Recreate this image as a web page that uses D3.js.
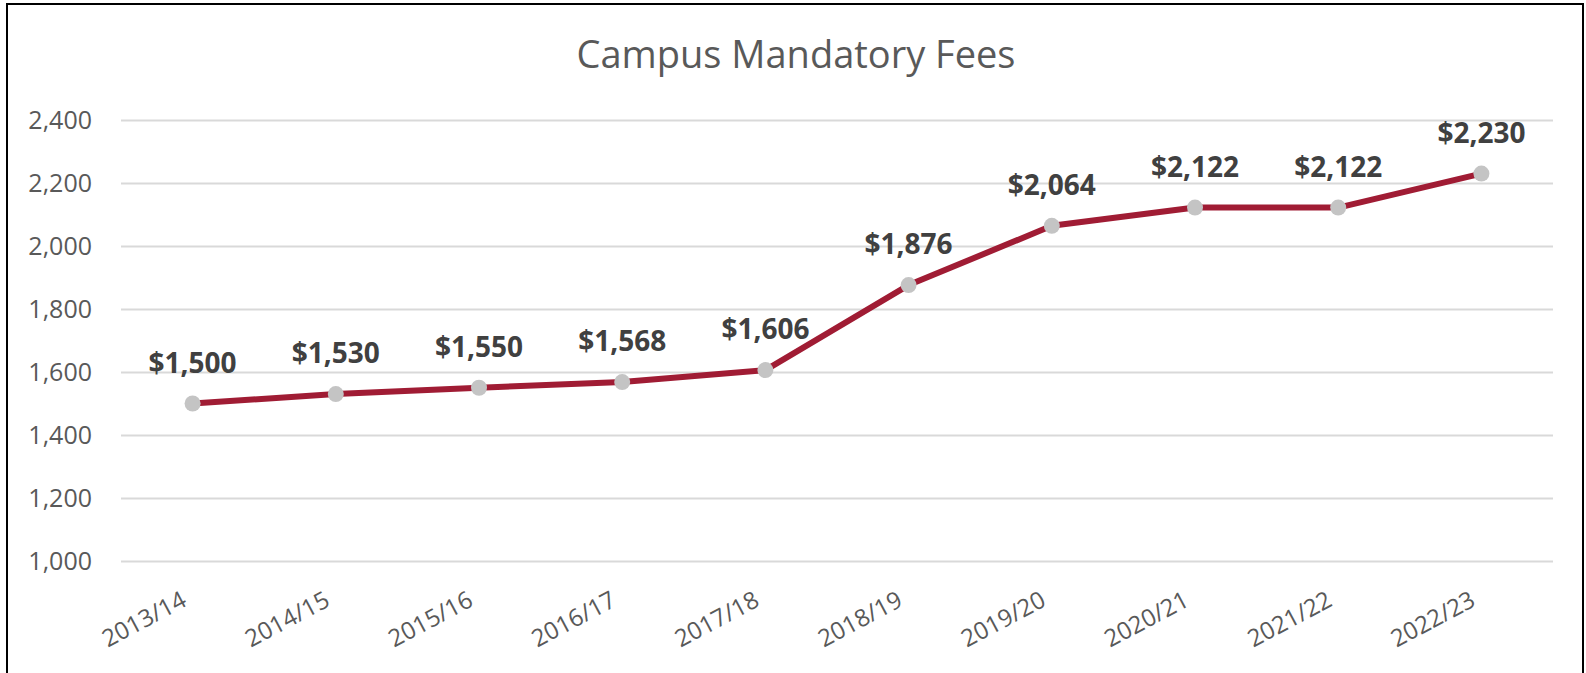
<!DOCTYPE html>
<html>
<head>
<meta charset="utf-8">
<script src="https://cdn.jsdelivr.net/npm/d3@7"></script>
<style>
  body { margin: 0; background: #fff; }
  text { font-family: "Open Sans", "Noto Sans", sans-serif; }
</style>
</head>
<body>
<div id="chart"></div>
<script>
var years = ["2013/14", "2014/15", "2015/16", "2016/17", "2017/18",
             "2018/19", "2019/20", "2020/21", "2021/22", "2022/23"];
var fees = [1500, 1530, 1550, 1568, 1606, 1876, 2064, 2122, 2122, 2230];
var yTicks = [1000, 1200, 1400, 1600, 1800, 2000, 2200, 2400];

var width = 1586, height = 673;
var plot = { left: 121, right: 1553, top: 120, bottom: 561 };

var svg = d3.select("#chart").append("svg")
    .attr("width", width)
    .attr("height", height);

// outer frame
svg.append("rect")
    .attr("x", 7)
    .attr("y", 4)
    .attr("width", 1576)
    .attr("height", 700)
    .attr("fill", "none")
    .attr("stroke", "#000")
    .attr("stroke-width", 2);

svg.append("text")
    .attr("x", 796)
    .attr("y", 68)
    .attr("text-anchor", "middle")
    .style("font-size", "38px")
    .style("fill", "#595959")
    .text("Campus Mandatory Fees");

var x = d3.scalePoint()
    .domain(years)
    .range([plot.left, plot.right])
    .padding(0.5);

var y = d3.scaleLinear()
    .domain([1000, 2400])
    .range([plot.bottom, plot.top]);

// gridlines + y labels
var yAxis = svg.append("g")
    .attr("transform", "translate(" + plot.left + ",0)")
    .call(d3.axisLeft(y).tickValues(yTicks).tickFormat(d3.format(","))
      .tickSize(-(plot.right - plot.left)).tickPadding(29));
yAxis.select(".domain").remove();
yAxis.selectAll("line").attr("stroke", "#d9d9d9").attr("stroke-width", 2);
yAxis.selectAll("text")
    .style("font-size", "25px")
    .style("font-family", "'Open Sans', sans-serif")
    .attr("fill", "#595959")
    .attr("dy", "0.35em");

// x labels, tilted
var xAxis = svg.append("g")
    .attr("transform", "translate(0," + plot.bottom + ")")
    .call(d3.axisBottom(x).tickSize(0).tickPadding(0));
xAxis.select(".domain").remove();
xAxis.selectAll("text")
    .style("font-size", "24px")
    .style("font-family", "'Open Sans', sans-serif")
    .attr("fill", "#595959")
    .attr("text-anchor", "end")
    .attr("dy", null)
    .attr("y", 0)
    .attr("transform", "translate(-5,44) rotate(-28)");

var line = d3.line()
    .x(function(d, i) { return x(years[i]); })
    .y(function(d) { return y(d); });

svg.append("path")
    .datum(fees)
    .attr("d", line)
    .attr("fill", "none")
    .attr("stroke", "#a01c34")
    .attr("stroke-width", 6)
    .attr("stroke-linejoin", "round");

svg.append("g").selectAll("circle")
    .data(fees)
    .enter().append("circle")
    .attr("cx", function(d, i) { return x(years[i]); })
    .attr("cy", function(d) { return y(d); })
    .attr("r", 8)
    .attr("fill", "#c4c4c4");

var fmt = d3.format("$,");
svg.append("g").selectAll("text")
    .data(fees)
    .enter().append("text")
    .attr("x", function(d, i) { return x(years[i]); })
    .attr("y", function(d) { return y(d) - 31; })
    .attr("text-anchor", "middle")
    .style("font-size", "28px")
    .style("font-weight", "bold")
    .style("fill", "#404040")
    .text(function(d) { return fmt(d); });
</script>
</body>
</html>
